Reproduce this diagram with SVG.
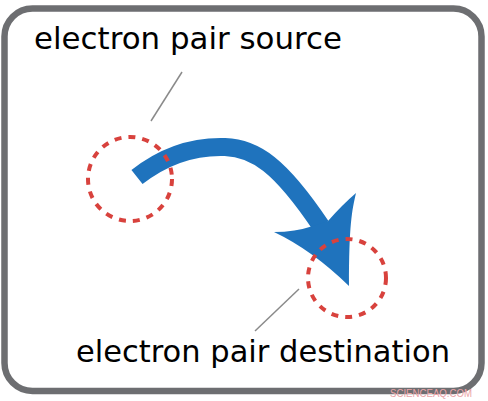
<svg xmlns="http://www.w3.org/2000/svg" width="488" height="401" viewBox="0 0 488 401">
<style>
.lbl{font-family:"DejaVu Sans",sans-serif;font-size:30.5px;fill:#000}
.ring{fill:none;stroke:#d8423d;stroke-width:4;stroke-dasharray:7 7}
.lead{stroke:#8a8a8a;stroke-width:1.5;fill:none}
.wm{font-family:"Liberation Sans",sans-serif;font-size:11.5px;fill:#eaa4a8}
</style>
<rect x="0" y="0" width="488" height="401" fill="#fff"/>
<rect id="frame" x="4.5" y="8.5" width="477" height="382.5" rx="28" fill="#fff" stroke="#6d6e71" stroke-width="6.5"/>
<g id="arrow">
<path d="M137,177 C165,155 195,146 225,147 C255,148 280,165 321,226" fill="none" stroke="#1f73bd" stroke-width="18"/>
<path d="M274,232 Q295,232 313,226 L328,221 Q342,205 356,193 C352,210 349,225 349,286 Q312,250 274,232 Z" fill="#1f73bd"/>
</g>
<g id="source">
<circle class="ring" cx="130" cy="179" r="42"/>
<line class="lead" x1="182" y1="72" x2="151" y2="121"/>
<text class="lbl" x="34" y="49" textLength="308" lengthAdjust="spacingAndGlyphs">electron pair source</text>
</g>
<g id="destination">
<circle class="ring" cx="347" cy="278" r="39"/>
<line class="lead" x1="299" y1="289" x2="255" y2="331"/>
<text class="lbl" x="76" y="362" textLength="374" lengthAdjust="spacingAndGlyphs">electron pair destination</text>
</g>
<text class="wm" x="390" y="397" textLength="82" lengthAdjust="spacingAndGlyphs">SCIENCEAQ.COM</text>
</svg>
